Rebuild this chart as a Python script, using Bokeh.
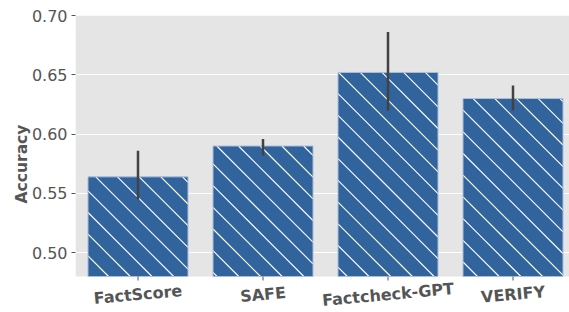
from bokeh.plotting import figure
from bokeh.models import (Range1d, FixedTicker, ColumnDataSource, BoxAnnotation,
                          CustomJSTickFormatter)
from bokeh.core.properties import value
from bokeh.embed import file_html
from bokeh.resources import INLINE

methods = ["FactScore", "SAFE", "Factcheck-GPT", "VERIFY"]
accuracy = [0.564, 0.590, 0.652, 0.630]
err_low = [0.545, 0.582, 0.620, 0.620]
err_high = [0.586, 0.596, 0.686, 0.641]
y_ticks = [0.50, 0.55, 0.60, 0.65, 0.70]

Y_MIN, Y_MAX = 0.48, 0.70
X_START, X_END = -0.5, 3.452
BAR_W = 0.8
W, H = 569, 312
TOP, LEFT = 15, 75
PANEL_BOTTOM_PX = 276
per_px = (Y_MAX - Y_MIN) / (PANEL_BOTTOM_PX - TOP)
y_start = Y_MIN - (H - PANEL_BOTTOM_PX) * per_px
x_per_px = (X_END - X_START) / (W - LEFT)

xs = list(range(len(methods)))
src = ColumnDataSource(dict(x=xs, top=accuracy, lo=err_low, hi=err_high))

p = figure(width=W, height=H, output_backend="svg", toolbar_location=None,
           x_range=Range1d(X_START, X_END), y_range=Range1d(y_start, Y_MAX),
           min_border_left=LEFT, min_border_right=0, min_border_top=TOP, min_border_bottom=0)
p.background_fill_color = "white"
p.border_fill_color = "white"
p.outline_line_color = None
p.add_layout(BoxAnnotation(bottom=Y_MIN, fill_color="#e5e5e5", fill_alpha=1,
                           line_color=None, level="image"))

p.vbar(x="x", top="top", bottom=Y_MIN, width=BAR_W, source=src,
       fill_color="#31639c", line_color=None)

# 45-degree "\" hatch lines, derived from each bar's extent (screen-space spacing)
def to_px_x(x): return LEFT + (x - X_START) / x_per_px
def to_px_y(y): return TOP + (Y_MAX - y) / per_px
def to_dx(px): return X_START + (px - LEFT) * x_per_px
def to_dy(py): return Y_MAX - (py - TOP) * per_px

SPACING, PHASE = 21.7, 16.0
hx, hy = [], []
for xi, top in zip(xs, accuracy):
    L, R = to_px_x(xi - BAR_W / 2), to_px_x(xi + BAR_W / 2)
    T, B = to_px_y(top), to_px_y(Y_MIN)
    k = int((T - R - PHASE) // SPACING) - 1
    while True:
        c = PHASE + k * SPACING
        if T - c > R:
            k += 1
            continue
        if B - c < L:
            break
        x1, x2 = max(L, T - c), min(R, B - c)
        if x2 > x1:
            hx.append([to_dx(x1), to_dx(x2)])
            hy.append([to_dy(x1 + c), to_dy(x2 + c)])
        k += 1
p.multi_line(xs=hx, ys=hy, line_color="white", line_width=1.1)

p.vbar(x="x", top="top", bottom=Y_MIN, width=BAR_W, source=src,
       fill_color=None, line_color="#a9bedb", line_width=1)
p.segment(x0="x", x1="x", y0="lo", y1="hi", source=src, line_color="#424242", line_width=2.5)

# small x tick marks under the panel
p.segment(x0=xs, x1=xs, y0=[Y_MIN] * len(xs), y1=[Y_MIN - 4 * per_px] * len(xs),
          line_color="#555555", line_width=1)

# category labels
label_y = Y_MIN - 18 * per_px
p.text(x=xs, y=[label_y] * len(xs), text=methods, angle=0.09,
       text_align="center", text_baseline="middle",
       text_font=value("DejaVu Sans"), text_font_style="bold",
       text_font_size="16px", text_color="#555555")

p.xgrid.grid_line_color = None
p.ygrid.grid_line_color = "white"
p.ygrid.grid_line_width = 1
p.xaxis.visible = False

p.yaxis.ticker = FixedTicker(ticks=y_ticks)
p.yaxis.formatter = CustomJSTickFormatter(code="return tick.toFixed(2);")
ax = p.yaxis[0]
ax.axis_line_color = None
ax.major_tick_line_color = "#555555"
ax.major_tick_in = 0
ax.major_tick_out = 4
ax.minor_tick_line_color = None
ax.major_label_text_color = "#555555"
ax.major_label_text_font = "DejaVu Sans"
ax.major_label_text_font_size = "16px"
ax.major_label_standoff = 4
ax.axis_label = "Accuracy"
ax.axis_label_text_font = "DejaVu Sans"
ax.axis_label_text_font_style = "bold"
ax.axis_label_text_font_size = "15.5px"
ax.axis_label_text_color = "#555555"
ax.axis_label_standoff = -2

open("out.html", "w").write(file_html(p, INLINE))
